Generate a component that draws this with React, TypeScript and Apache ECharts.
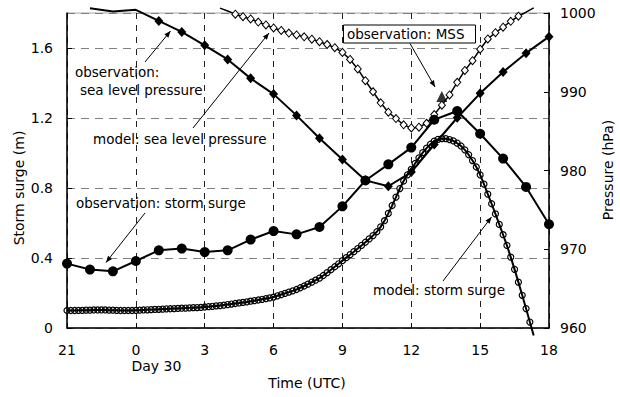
import React, { useEffect, useRef } from "react";
import * as echarts from "echarts";

// x values are hours counted from 21 UTC (Day 29)
const xTickLabels = ["21", "0", "3", "6", "9", "12", "15", "18"];
const dayLabel = "Day 30";

const obsHours = [0, 1, 2, 3, 4, 5, 6, 7, 8, 9, 10, 11, 12, 13, 14, 15, 16, 17, 18, 19, 20, 21];
const obsSurge = [0.368, 0.334, 0.324, 0.383, 0.444, 0.454, 0.434, 0.444, 0.505, 0.554, 0.535, 0.577,
  0.695, 0.843, 0.935, 1.031, 1.19, 1.24, 1.11, 0.968, 0.806, 0.593];
const obsPressure = [null, 1000.6, 1000.2, 1000.4, 999.0, 997.6, 995.9, 994.1, 991.7, 989.7, 987.0, 984.1,
  981.4, 978.75, 978.0, 979.8, 983.3, 986.7, 989.8, 992.5, 994.9, 997.0];

// model storm surge, every 10 minutes from hour 0
const modelSurgeStart = 0;
const modelSurgeStep = 1 / 6;
const modelSurge = [
  0.100, 0.100, 0.100, 0.101, 0.101, 0.102,
  0.102, 0.103, 0.103, 0.103, 0.103, 0.102,
  0.102, 0.101, 0.100, 0.100, 0.100, 0.100,
  0.101, 0.102, 0.103, 0.104, 0.105, 0.106,
  0.107, 0.108, 0.109, 0.110, 0.111, 0.112,
  0.113, 0.114, 0.115, 0.116, 0.117, 0.118,
  0.120, 0.122, 0.124, 0.126, 0.128, 0.131,
  0.134, 0.137, 0.140, 0.143, 0.146, 0.149,
  0.153, 0.156, 0.160, 0.164, 0.168, 0.172,
  0.177, 0.184, 0.191, 0.198, 0.205, 0.212,
  0.220, 0.230, 0.240, 0.251, 0.262, 0.273,
  0.285, 0.300, 0.316, 0.333, 0.350, 0.367,
  0.385, 0.402, 0.419, 0.436, 0.454, 0.472,
  0.490, 0.509, 0.528, 0.550, 0.578, 0.613,
  0.655, 0.700, 0.748, 0.797, 0.840, 0.875,
  0.907, 0.940, 0.972, 1.002, 1.028, 1.050,
  1.068, 1.078, 1.082, 1.082, 1.077, 1.069,
  1.056, 1.040, 1.018, 0.990, 0.957, 0.920,
  0.875, 0.822, 0.765, 0.710, 0.652, 0.592,
  0.533, 0.472, 0.405, 0.335, 0.262, 0.187,
  0.111, 0.034, -0.043,
];

// model sea level pressure, every 20 minutes from hour 6:40
const modelPressureStart = 6 + 2 / 3;
const modelPressureStep = 1 / 3;
const modelPressure = [
  1000.62, 1000.25, 999.85, 999.53, 999.25, 998.85, 998.48, 998.1, 997.78, 997.45,
  997.22, 996.97, 996.68, 996.35, 996.0, 995.6, 995.0, 994.1, 992.9, 991.4,
  990.0, 988.6, 987.4, 986.6, 985.8, 985.4, 985.5, 986.0, 987.1, 988.3,
  989.6, 991.2, 992.7, 993.95, 995.4, 996.7, 997.5, 998.2, 998.95, 999.6,
  1000.1, 1000.65,
];

const mssHour = [16.33];
const mssPressure = [989.4];

const FONT = '"DejaVu Sans", sans-serif';
const SURGE_MIN = 0, SURGE_MAX = 1.8;
const P_MIN = 960, P_MAX = 1000;

function arrow(x1: number, y1: number, x2: number, y2: number) {
  const a = Math.atan2(y2 - y1, x2 - x1);
  const L = 7, w = 0.38;
  const p1 = [x2 - L * Math.cos(a - w), y2 - L * Math.sin(a - w)];
  const p2 = [x2 - L * Math.cos(a + w), y2 - L * Math.sin(a + w)];
  return [
    { type: "line", z: 100, shape: { x1, y1, x2, y2 }, style: { stroke: "#000", lineWidth: 1 } },
    { type: "polygon", z: 100, shape: { points: [[x2, y2], p1, p2] }, style: { fill: "#000" } },
  ];
}

function txt(text: string, x: number, y: number, size = 13.5, align = "left", rotation = 0) {
  return {
    type: "text", z: 101, x, y, rotation,
    style: {
      text, fill: "#000", fontSize: size, fontFamily: FONT,
      align, verticalAlign: "middle", textAlign: align, textVerticalAlign: "middle",
    },
  };
}

export default function App() {
  const ref = useRef<HTMLDivElement>(null);
  useEffect(() => {
    const chart = echarts.init(ref.current!, null, { renderer: "svg" });

    const hideOutside = (x: number, v: number, lo: number, hi: number) =>
      v < lo || v > hi ? { value: [x, v], symbol: "none" } : { value: [x, v] };

    const modelSurgeData = modelSurge.map((v, i) =>
      hideOutside(modelSurgeStart + i * modelSurgeStep, v, SURGE_MIN, SURGE_MAX));
    const modelPressureData = modelPressure.map((v, i) =>
      hideOutside(modelPressureStart + i * modelPressureStep, v, P_MIN, P_MAX));
    const obsPressureData = obsHours
      .map((h, i) => (obsPressure[i] == null ? null : hideOutside(h, obsPressure[i] as number, P_MIN, P_MAX)))
      .filter(Boolean);
    const obsSurgeData = obsHours.map((h, i) => [h, obsSurge[i]]);
    const mssData = mssHour.map((h, i) => [h, mssPressure[i]]);

    const option: any = {
      animation: false,
      backgroundColor: "#fff",
      textStyle: { fontFamily: FONT },
      grid: { left: 67, right: 71, top: 13, bottom: 69, show: true, borderColor: "#a6a6a6", borderWidth: 1 },
      xAxis: {
        type: "value", min: 0, max: 21, interval: 3,
        axisLine: { show: true, onZero: false, lineStyle: { color: "#000", width: 1.5 } },
        axisTick: { show: true, inside: true, length: 5, lineStyle: { color: "#000" } },
        axisLabel: {
          color: "#000", fontSize: 14, fontFamily: FONT, margin: 15,
          formatter: (v: number) => xTickLabels[Math.round(v / 3)] ?? "",
        },
        splitLine: { show: true, lineStyle: { color: "#222", type: [6, 6], width: 1 } },
      },
      yAxis: [
        {
          type: "value", min: SURGE_MIN, max: SURGE_MAX, interval: 0.4, position: "left",
          axisLine: { show: true, onZero: false, lineStyle: { color: "#000", width: 1.5 } },
          axisTick: { show: true, inside: true, length: 5, lineStyle: { color: "#000" } },
          axisLabel: {
            color: "#000", fontSize: 14, fontFamily: FONT, margin: 14, showMaxLabel: false,
            formatter: (v: number) => (v === 0 ? "0" : v.toFixed(1)),
          },
          splitLine: { show: true, lineStyle: { color: "#808080", type: [8, 6], width: 1.2 } },
        },
        {
          type: "value", min: P_MIN, max: P_MAX, interval: 10, position: "right",
          axisLine: { show: true, onZero: false, lineStyle: { color: "#000", width: 1.5 } },
          axisTick: { show: true, inside: true, length: 5, lineStyle: { color: "#000" } },
          axisLabel: {
            color: "#000", fontSize: 14, fontFamily: FONT, margin: 11,
            formatter: (v: number) => String(v),
          },
          splitLine: { show: false },
        },
      ],
      series: [
        {
          name: "model: storm surge", type: "line", yAxisIndex: 0, clip: false,
          data: modelSurgeData, symbol: "circle", symbolSize: 6,
          itemStyle: { color: "rgba(255,255,255,0)", borderColor: "#000", borderWidth: 1.2 },
          lineStyle: { color: "#000", width: 2 },
        },
        {
          name: "model: sea level pressure", type: "line", yAxisIndex: 1, clip: false,
          data: modelPressureData, symbol: "diamond", symbolSize: [7, 8],
          itemStyle: { color: "#fff", borderColor: "#000", borderWidth: 1 },
          lineStyle: { color: "#000", width: 1.5 },
        },
        {
          name: "observation: sea level pressure", type: "line", yAxisIndex: 1, clip: false,
          data: obsPressureData, symbol: "diamond", symbolSize: [9, 10],
          itemStyle: { color: "#000" },
          lineStyle: { color: "#000", width: 2 },
        },
        {
          name: "observation: storm surge", type: "line", yAxisIndex: 0, clip: false,
          data: obsSurgeData, symbol: "circle", symbolSize: 10,
          itemStyle: { color: "#000" },
          lineStyle: { color: "#000", width: 2 },
        },
        {
          name: "observation: MSS", type: "scatter", yAxisIndex: 1,
          data: mssData, symbol: "triangle", symbolSize: 11,
          itemStyle: { color: "#000" },
        },
      ],
      graphic: [
        txt("observation:", 75, 72),
        txt("sea level pressure", 80, 90),
        ...arrow(145, 62, 170.5, 31),
        txt("model: sea level pressure", 93, 138.5),
        ...arrow(193, 128, 269, 33),
        txt("observation: storm surge", 76, 203),
        ...arrow(145, 213, 106, 262.5),
        txt("model: storm surge", 373, 289.5),
        ...arrow(443, 281, 491.5, 217),
        { type: "rect", z: 100, shape: { x: 343.5, y: 25, width: 132, height: 18 }, style: { fill: "#fff", stroke: "#000", lineWidth: 1 } },
        txt("observation: MSS", 347, 34),
        ...arrow(410, 43.5, 435, 87),
        txt("Storm surge (m)", 19, 188, 14, "center", Math.PI / 2),
        txt("Pressure (hPa)", 608, 170, 14, "center", Math.PI / 2),
        txt("Time (UTC)", 307, 383, 14, "center"),
        txt(dayLabel, 131.5, 366, 14, "left"),
      ],
    };
    chart.setOption(option);
    return () => chart.dispose();
  }, []);
  return <div ref={ref} style={{ position: "absolute", left: 0, top: 0, width: 620, height: 397 }} />;
}
